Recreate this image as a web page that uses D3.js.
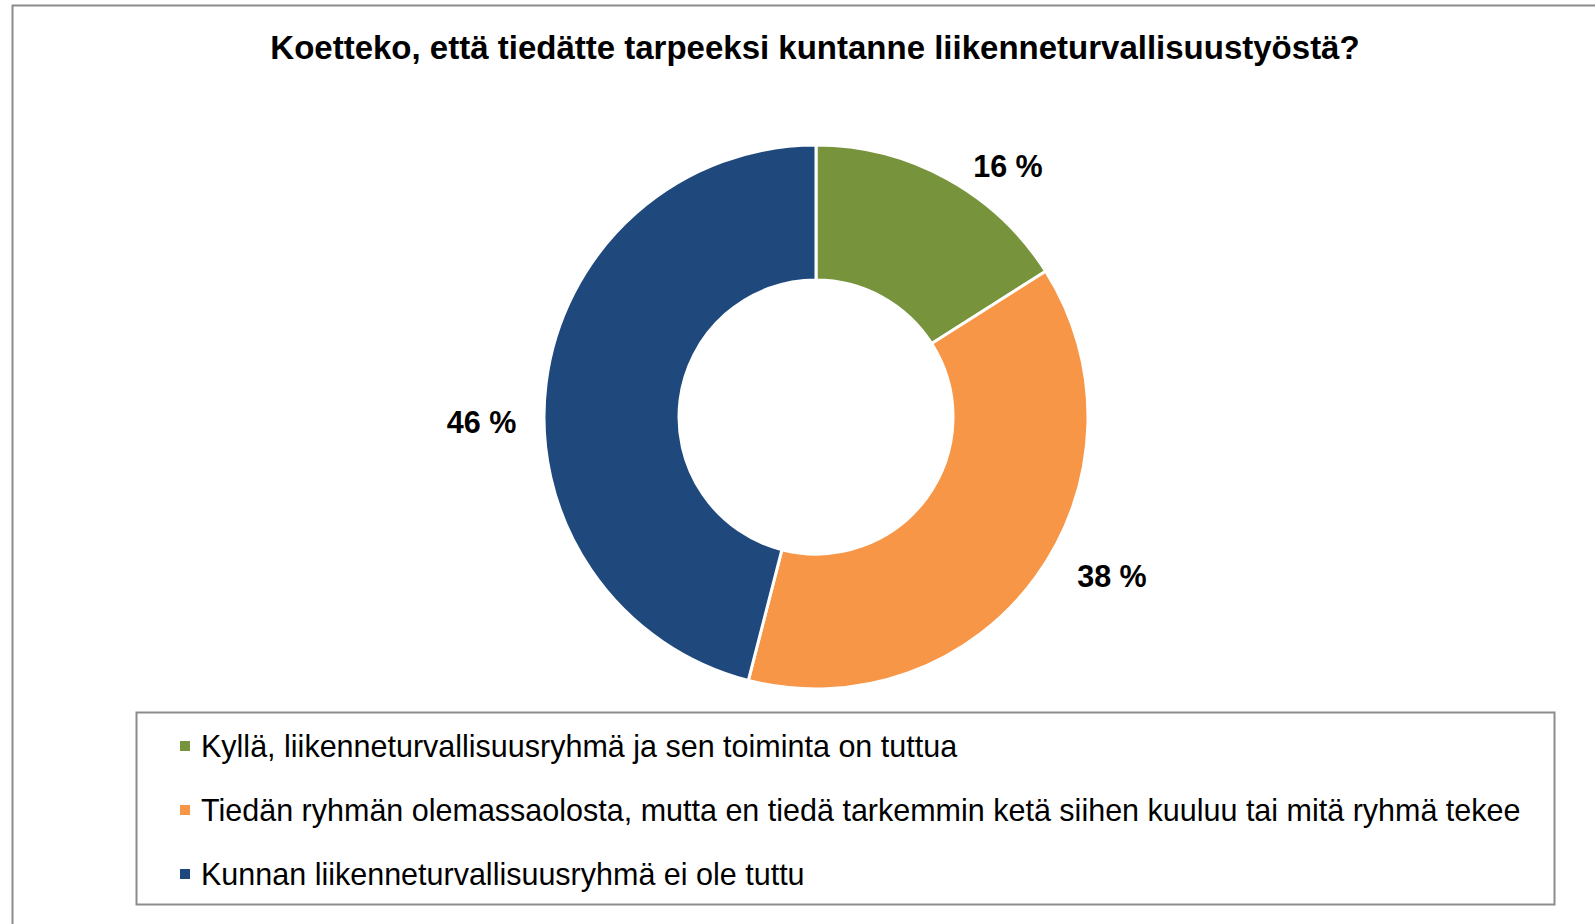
<!DOCTYPE html>
<html><head><meta charset="utf-8">
<script src="https://cdn.jsdelivr.net/npm/d3@7"></script>
<style>html,body{margin:0;padding:0;background:#fff;overflow:hidden}</style>
</head><body>
<svg id="c" width="1595" height="924"></svg>
<script>
const title = "Koetteko, että tiedätte tarpeeksi kuntanne liikenneturvallisuustyöstä?";
const categories = [
  "Kyllä, liikenneturvallisuusryhmä ja sen toiminta on tuttua",
  "Tiedän ryhmän olemassaolosta, mutta en tiedä tarkemmin ketä siihen kuuluu tai mitä ryhmä tekee",
  "Kunnan liikenneturvallisuusryhmä ei ole tuttu"
];
const values = [16, 38, 46];
const colors = ["#77933C", "#F79646", "#1F497D"];

const svg = d3.select("#c");
const font = "'Liberation Sans', Arial, sans-serif";

// outer frame
svg.append("rect").attr("x", 12.5).attr("y", 5.5).attr("width", 1700).attr("height", 1000)
  .attr("fill", "#fff").attr("stroke", "#8c8c8c").attr("stroke-width", 2);

svg.append("text").attr("x", 815).attr("y", 59).attr("text-anchor", "middle")
  .attr("font-family", font).attr("font-weight", "bold").attr("font-size", 33)
  .attr("fill", "#000").text(title);

const cx = 816, cy = 417, R = 272, r0 = 137;
const pie = d3.pie().sort(null).value(d => d)(values);
const arc = d3.arc().innerRadius(r0).outerRadius(R);
const g = svg.append("g").attr("transform", `translate(${cx},${cy})`);
g.selectAll("path").data(pie).join("path")
  .attr("d", arc).attr("fill", (d, i) => colors[i])
  .attr("stroke", "#fff").attr("stroke-width", 3);

const labelArc = d3.arc().innerRadius(330).outerRadius(330);
const labelNudge = [[33, 38], [29, -35], [-7, 47]];
g.selectAll("text.lab").data(pie).join("text").attr("class", "lab")
  .attr("x", (d, i) => labelArc.centroid(d)[0] + labelNudge[i][0])
  .attr("y", (d, i) => labelArc.centroid(d)[1] + labelNudge[i][1])
  .attr("dy", "0.35em").attr("text-anchor", "middle")
  .attr("font-family", font).attr("font-weight", "bold").attr("font-size", 30.5)
  .attr("fill", "#000").text(d => d.data + " %");

// legend
svg.append("rect").attr("x", 136.5).attr("y", 712.5).attr("width", 1418).attr("height", 192)
  .attr("fill", "#fff").attr("stroke", "#8c8c8c").attr("stroke-width", 2);
const ly = d3.scalePoint().domain(d3.range(categories.length)).range([746, 874]);
const lg = svg.append("g");
categories.forEach((c, i) => {
  lg.append("rect").attr("x", 180).attr("y", ly(i) - 5).attr("width", 10).attr("height", 10).attr("fill", colors[i]);
  lg.append("text").attr("x", 201).attr("y", ly(i)).attr("dy", "0.35em")
    .attr("font-family", font).attr("font-size", 30.5).attr("fill", "#000").text(c);
});
</script>
</body></html>
